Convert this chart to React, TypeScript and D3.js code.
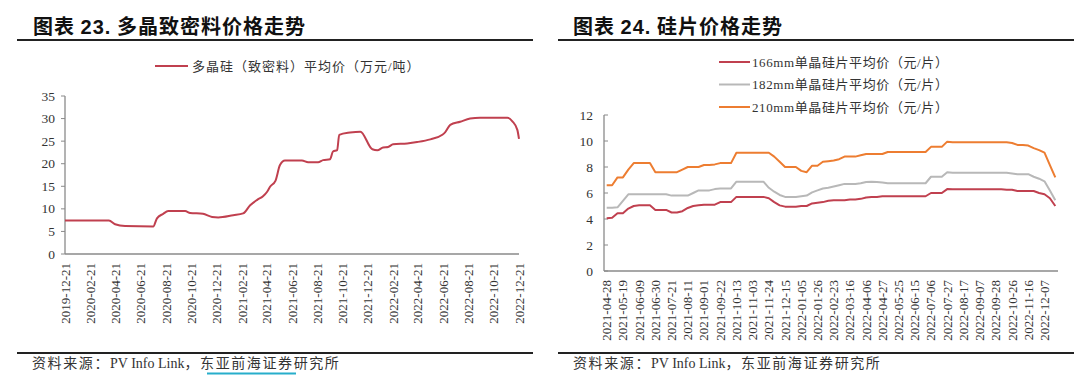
import React from "react";
import * as d3 from "d3";

// ---------- Left chart data (多晶致密料) ----------
const polyDates = [
  "2019-12-21","2020-04-05","2020-04-20","2020-05-14","2020-07-21","2020-07-30","2020-08-14","2020-08-26",
  "2020-10-06","2020-10-18","2020-11-18","2020-12-10","2020-12-25","2021-01-30","2021-02-23","2021-03-12",
  "2021-03-29","2021-04-12","2021-04-22","2021-04-29","2021-05-12","2021-05-23","2021-06-04","2021-07-15",
  "2021-07-30","2021-08-23","2021-09-04","2021-09-21","2021-09-28","2021-10-08","2021-10-13","2021-11-08",
  "2021-12-03","2022-01-01","2022-01-13","2022-01-27","2022-02-08","2022-02-20","2022-03-26","2022-04-19",
  "2022-05-21","2022-06-19","2022-06-26","2022-07-08","2022-08-01","2022-08-25","2022-09-18","2022-11-23",
  "2022-12-05","2022-12-17","2022-12-21",
];
const polyValues = [
  7.4,7.4,6.6,6.2,6.1,7.9,8.9,9.5,9.5,9.1,8.9,8.2,8.1,8.6,9.0,10.8,12.0,12.8,13.8,14.9,
  16.2,19.7,20.7,20.7,20.3,20.3,20.8,21.0,22.7,23.0,26.4,26.9,27.1,23.2,23.0,23.6,23.7,24.3,24.5,24.8,
  25.4,26.4,27.0,28.6,29.3,30.0,30.2,30.2,29.4,27.5,25.5,
];
const polyTickLabels = [
  "2019-12-21","2020-02-21","2020-04-21","2020-06-21","2020-08-21","2020-10-21","2020-12-21",
  "2021-02-21","2021-04-21","2021-06-21","2021-08-21","2021-10-21","2021-12-21","2022-02-21",
  "2022-04-21","2022-06-21","2022-08-21","2022-10-21","2022-12-21",
];
const polyYTicks = [0, 5, 10, 15, 20, 25, 30, 35];
const polyLegend = "多晶硅（致密料）平均价（万元/吨）";

// ---------- Right chart data (硅片) ----------
const waferTickLabels = [
  "2021-04-28","2021-05-19","2021-06-09","2021-06-30","2021-07-21","2021-08-11","2021-09-01",
  "2021-09-22","2021-10-13","2021-11-03","2021-11-24","2021-12-15","2022-01-05","2022-01-26",
  "2022-02-23","2022-03-16","2022-04-06","2022-04-27","2022-05-25","2022-06-15","2022-07-06",
  "2022-07-27","2022-08-17","2022-09-07","2022-09-28","2022-10-26","2022-11-16","2022-12-07",
];
const wafer166 = [
  4.05,4.1,4.45,4.45,4.8,5.0,5.05,5.05,5.05,4.7,
  4.7,4.7,4.5,4.5,4.6,4.85,5.0,5.05,5.1,5.1,
  5.1,5.3,5.3,5.3,5.7,5.7,5.7,5.7,5.7,5.7,
  5.6,5.3,5.05,4.95,4.95,4.95,5.0,5.0,5.2,5.25,
  5.3,5.4,5.45,5.45,5.45,5.5,5.5,5.55,5.65,5.7,
  5.7,5.75,5.75,5.75,5.75,5.75,5.75,5.75,5.75,5.75,
  6.0,6.0,6.0,6.3,6.28,6.28,6.28,6.28,6.28,6.28,
  6.28,6.28,6.28,6.28,6.25,6.25,6.15,6.15,6.15,6.15,
  6.0,5.9,5.6,5.0,
];
const wafer182 = [
  4.87,4.87,4.9,5.4,5.9,5.9,5.9,5.9,5.9,5.9,
  5.9,5.9,5.8,5.8,5.8,5.8,6.0,6.2,6.2,6.2,
  6.3,6.35,6.35,6.35,6.87,6.87,6.87,6.87,6.87,6.87,
  6.4,6.1,5.85,5.7,5.7,5.7,5.75,5.8,6.05,6.2,
  6.35,6.4,6.5,6.6,6.7,6.7,6.7,6.75,6.85,6.87,
  6.85,6.8,6.75,6.75,6.75,6.75,6.75,6.75,6.75,6.75,
  7.25,7.25,7.25,7.6,7.55,7.55,7.55,7.55,7.55,7.55,
  7.55,7.55,7.55,7.55,7.55,7.5,7.45,7.45,7.45,7.25,
  7.1,6.9,6.2,5.45,
];
const wafer210 = [
  6.6,6.6,7.2,7.2,7.8,8.3,8.3,8.3,8.3,7.6,
  7.6,7.6,7.6,7.6,7.8,8.0,8.0,8.0,8.15,8.15,
  8.2,8.3,8.3,8.3,9.1,9.1,9.1,9.1,9.1,9.1,
  9.1,8.8,8.4,8.0,8.0,8.0,7.7,7.6,8.1,8.1,
  8.4,8.45,8.5,8.6,8.8,8.8,8.8,8.9,9.0,9.0,
  9.0,9.0,9.15,9.15,9.15,9.15,9.15,9.15,9.15,9.15,
  9.55,9.55,9.55,9.95,9.9,9.9,9.9,9.9,9.9,9.9,
  9.9,9.9,9.9,9.9,9.9,9.85,9.7,9.7,9.65,9.45,
  9.3,9.1,8.15,7.2,
];
const waferSeriesNames = [
  "166mm单晶硅片平均价（元/片）",
  "182mm单晶硅片平均价（元/片）",
  "210mm单晶硅片平均价（元/片）",
];
const waferYTicks = [0, 2, 4, 6, 8, 10, 12];
const labelEvery = 3;

const sourceLead = "资料来源：";
const sourceName = "PV Info Link";
const sourceTail1 = "，";
const sourceTail2 = "东亚前海证券研究所";

const SERIF = "'Liberation Serif', 'Noto Sans CJK SC', serif";
const CJK = "'Noto Sans CJK SC', 'Liberation Serif', sans-serif";
const RED = "#c0404f";
const GRAY = "#b8b8b8";
const ORANGE = "#ed7d31";
const AXIS = "#8a8a8a";
const TEXT = "#333";

function Title({ x, num, rest }: { x: number; num: string; rest: string }) {
  return (
    <text x={x} y={34} fontSize={20} fill="#111" style={{ letterSpacing: "1px" }}>
      <tspan fontFamily={CJK} fontWeight={700}>图表 </tspan>
      <tspan fontFamily="'Liberation Sans', Arial, sans-serif" fontWeight={700}>{num}</tspan>
      <tspan fontFamily={CJK} fontWeight={700}> {rest}</tspan>
    </text>
  );
}

function Source({ x }: { x: number }) {
  return (
    <text x={x} y={368} fontSize={14} fontFamily={SERIF} fill={TEXT}>
      <tspan style={{ letterSpacing: "1.6px" }}>{sourceLead}</tspan>
      <tspan>{sourceName}</tspan>
      <tspan style={{ letterSpacing: "1.6px" }}>{sourceTail1}{sourceTail2}</tspan>
    </text>
  );
}

export default function App() {
  const parse = d3.timeParse("%Y-%m-%d");

  // Left chart
  const xL = d3.scaleTime()
    .domain([parse(polyTickLabels[0])!, parse(polyTickLabels[polyTickLabels.length - 1])!])
    .range([65, 519]);
  const yL = d3.scaleLinear().domain([0, 35]).range([254, 96]);
  const polyData = polyDates.map((d, i) => ({ date: parse(d)!, v: polyValues[i] }));
  const lineL = d3.line<{ date: Date; v: number }>()
    .x((d) => xL(d.date))
    .y((d) => yL(d.v))
    .curve(d3.curveMonotoneX);

  // Right chart
  const idx = d3.range(wafer166.length);
  const xR = d3.scalePoint<number>().domain(idx).range([604, 1058]).padding(0.5);
  const yR = d3.scaleLinear().domain([0, 12]).range([271, 115]);
  const lineR = d3.line<number>().x((_, i) => xR(i)!).y((d) => yR(d));
  const waferSeries = [
    { name: waferSeriesNames[0], values: wafer166, color: RED },
    { name: waferSeriesNames[1], values: wafer182, color: GRAY },
    { name: waferSeriesNames[2], values: wafer210, color: ORANGE },
  ];

  return (
    <svg width={1080} height={381} style={{ position: "absolute", left: 0, top: 0, background: "#fff" }}>
      <rect width={1080} height={381} fill="#fff" />
      {/* ===== Left panel ===== */}
      <Title x={33} num="23." rest="多晶致密料价格走势" />
      <line x1={17} x2={533} y1={40} y2={40} stroke="#222" strokeWidth={2} />
      {/* legend */}
      <line x1={155} x2={188} y1={66} y2={66} stroke={RED} strokeWidth={2} />
      <text x={192} y={70.5} fontSize={13} fontFamily={SERIF} fill={TEXT} style={{ letterSpacing: "1px" }}>{polyLegend}</text>
      {/* y axis */}
      <line x1={65} x2={65} y1={yL(35)} y2={yL(0)} stroke={AXIS} strokeWidth={1.3} />
      {polyYTicks.map((t) => (
        <g key={t}>
          <line x1={61} x2={65} y1={yL(t)} y2={yL(t)} stroke={AXIS} strokeWidth={1} />
          <text x={55} y={yL(t) + 4.5} textAnchor="end" fontSize={13.5} fontFamily={SERIF} fill={TEXT}>{t}</text>
        </g>
      ))}
      {/* x axis */}
      <line x1={65} x2={519} y1={yL(0)} y2={yL(0)} stroke={AXIS} strokeWidth={1.3} />
      {polyTickLabels.map((l) => {
        const x = xL(parse(l)!);
        return (
          <text key={l} transform={`translate(${x + 4.5},263) rotate(-90)`} textAnchor="end"
            fontSize={13} fontFamily={SERIF} fill={TEXT}>{l}</text>
        );
      })}
      <path d={lineL(polyData)!} fill="none" stroke={RED} strokeWidth={2} strokeLinejoin="round" />
      {/* source */}
      <line x1={17} x2={533} y1={353} y2={353} stroke="#222" strokeWidth={2} />
      <Source x={32} />
      <line x1={207} x2={296} y1={373.5} y2={373.5} stroke="#27aecb" strokeWidth={2} />

      {/* ===== Right panel ===== */}
      <Title x={573} num="24." rest="硅片价格走势" />
      <line x1={558} x2={1074} y1={40} y2={40} stroke="#222" strokeWidth={2} />
      {waferSeries.map((s, i) => (
        <g key={s.name}>
          <line x1={719} x2={750} y1={62 + i * 22.5} y2={62 + i * 22.5} stroke={s.color} strokeWidth={2} />
          <text x={752} y={66.5 + i * 22.5} fontSize={13} fontFamily={SERIF} fill={TEXT} style={{ letterSpacing: "0.6px" }}>{s.name}</text>
        </g>
      ))}
      <line x1={604} x2={604} y1={yR(12)} y2={yR(0)} stroke={AXIS} strokeWidth={1.3} />
      {waferYTicks.map((t) => (
        <g key={t}>
          <line x1={604} x2={608} y1={yR(t)} y2={yR(t)} stroke={AXIS} strokeWidth={1} />
          <text x={593} y={yR(t) + 4.5} textAnchor="end" fontSize={13.5} fontFamily={SERIF} fill={TEXT}>{t}</text>
        </g>
      ))}
      <line x1={604} x2={1058} y1={yR(0)} y2={yR(0)} stroke={AXIS} strokeWidth={1.3} />
      {waferTickLabels.map((l, k) => {
        const x = xR(k * labelEvery)!;
        return (
          <text key={l} transform={`translate(${x + 4.5},280) rotate(-90)`} textAnchor="end"
            fontSize={13} fontFamily={SERIF} fill={TEXT}>{l}</text>
        );
      })}
      {waferSeries.map((s) => (
        <path key={s.name} d={lineR(s.values)!} fill="none" stroke={s.color} strokeWidth={2} strokeLinejoin="round" />
      ))}
      <line x1={558} x2={1074} y1={353} y2={353} stroke="#222" strokeWidth={2} />
      <Source x={573} />
    </svg>
  );
}
